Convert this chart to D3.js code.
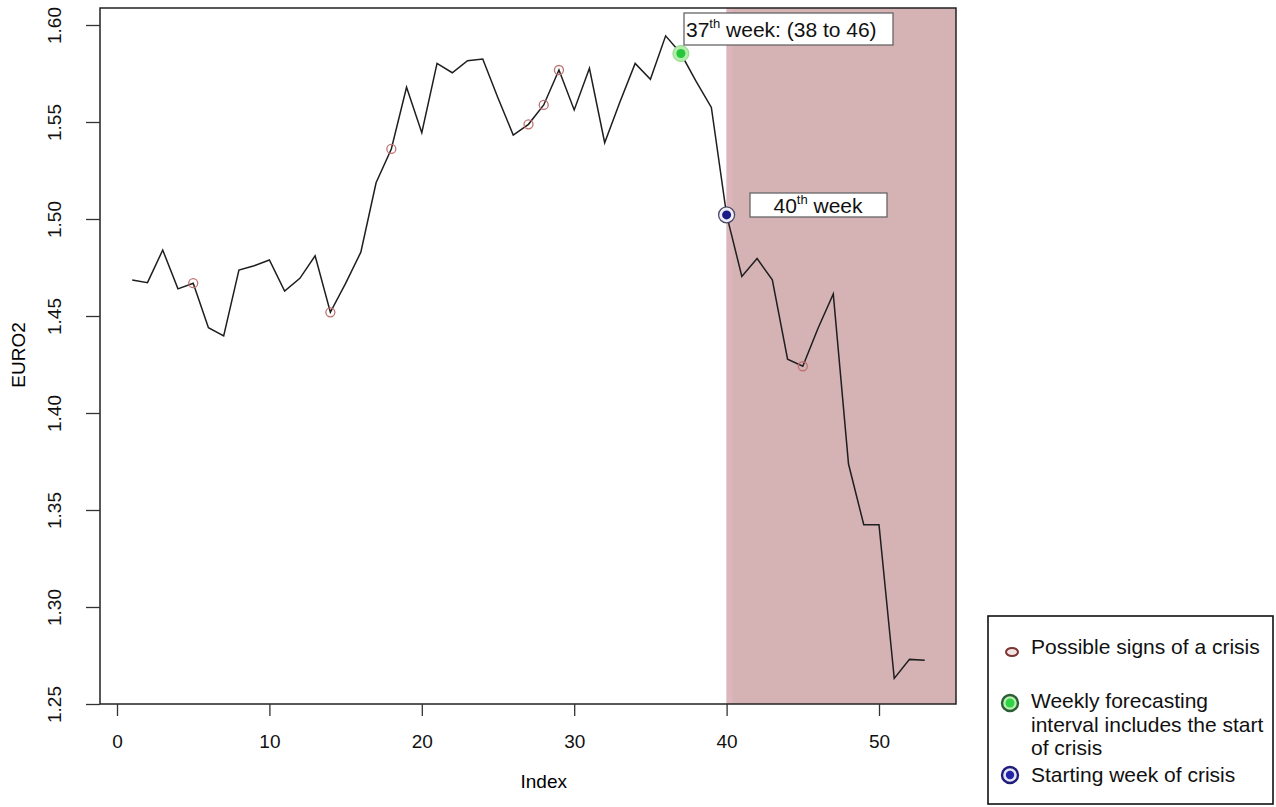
<!DOCTYPE html>
<html>
<head>
<meta charset="utf-8">
<script src="https://cdn.jsdelivr.net/npm/d3@7"></script>
<style>
  body { margin: 0; background: #fff; }
  svg { display: block; font-family: "Liberation Sans", Arial, sans-serif; }
</style>
</head>
<body>
<svg id="chart" width="1276" height="807"></svg>
<script>
// Weekly EURO2 values, index 1..53
const euro2 = [
  1.4686, 1.4672, 1.4840, 1.4640, 1.4669, 1.4440, 1.4397, 1.4737, 1.4759, 1.4789,
  1.4629, 1.4694, 1.4810, 1.4519, 1.4668, 1.4829, 1.5187, 1.5361, 1.5679, 1.5445,
  1.5802, 1.5754, 1.5816, 1.5825, 1.5624, 1.5433, 1.5488, 1.5588, 1.5768, 1.5562,
  1.5777, 1.5393, 1.5603, 1.5802, 1.5720, 1.5944, 1.5853, 1.5709, 1.5575, 1.5021,
  1.4704, 1.4796, 1.4686, 1.4277, 1.4241, 1.4437, 1.4614, 1.3737, 1.3424, 1.3424,
  1.2632, 1.2730, 1.2725
];
const signWeeks = [5, 14, 18, 27, 28, 29, 45];   // possible signs of a crisis
const forecastWeek = 37;                          // interval includes the start
const crisisWeek = 40;                            // starting week of crisis
const xTicks = [0, 10, 20, 30, 40, 50];
const yTicks = [1.25, 1.30, 1.35, 1.40, 1.45, 1.50, 1.55, 1.60];
const legendLabels = [
  ["Possible signs of a crisis"],
  ["Weekly forecasting", "interval includes the start", "of crisis"],
  ["Starting week of crisis"]
];

const svg = d3.select("#chart");
const box = { left: 100, right: 956, top: 8, bottom: 704 };
const font = 19;

const x = d3.scaleLinear().domain([0, 50]).range([117, 879]);
const y = d3.scaleLinear().domain([1.25, 1.60]).range([704, 25]);
const pt = (wk) => [x(wk), y(euro2[wk - 1])];

// crisis period shading
svg.append("rect")
  .attr("x", x(crisisWeek)).attr("y", box.top)
  .attr("width", box.right - x(crisisWeek)).attr("height", box.bottom - box.top)
  .attr("fill", "#d5b3b5");
svg.append("rect")
  .attr("x", x(crisisWeek)).attr("y", box.top)
  .attr("width", 6).attr("height", box.bottom - box.top)
  .attr("fill", "#dcb6bc");

// series line
const line = d3.line().x((d, i) => x(i + 1)).y(d => y(d));
svg.append("path").datum(euro2)
  .attr("d", line).attr("fill", "none")
  .attr("stroke", "#1e1e1e").attr("stroke-width", 1.5);

// possible signs
svg.append("g").selectAll("circle").data(signWeeks).join("circle")
  .attr("cx", d => pt(d)[0]).attr("cy", d => pt(d)[1]).attr("r", 4.5)
  .attr("fill", "none").attr("stroke", "#c07272").attr("stroke-width", 1.3);

// forecast week marker
const [gx, gy] = pt(forecastWeek);
svg.append("circle").attr("cx", gx).attr("cy", gy).attr("r", 8)
  .attr("fill", "#b4ecac").attr("stroke", "#8fd888").attr("stroke-width", 1);
svg.append("circle").attr("cx", gx).attr("cy", gy).attr("r", 4.5).attr("fill", "#25c83a");

// crisis week marker
const [bx, by] = pt(crisisWeek);
svg.append("circle").attr("cx", bx).attr("cy", by).attr("r", 8)
  .attr("fill", "#eeeef6").attr("stroke", "#4a4a66").attr("stroke-width", 1.3);
svg.append("circle").attr("cx", bx).attr("cy", by).attr("r", 4.5).attr("fill", "#1c1c88");

// plot frame
svg.append("rect")
  .attr("x", box.left).attr("y", box.top)
  .attr("width", box.right - box.left).attr("height", box.bottom - box.top)
  .attr("fill", "none").attr("stroke", "#222").attr("stroke-width", 1.5);

// axes (R style)
const xAxis = svg.append("g").attr("transform", `translate(0,${box.bottom})`)
  .call(d3.axisBottom(x).tickValues(xTicks).tickSize(12).tickPadding(19));
const yAxis = svg.append("g").attr("transform", `translate(${box.left},0)`)
  .call(d3.axisLeft(y).tickValues(yTicks).tickFormat(d3.format(".2f")).tickSize(14).tickPadding(4));
for (const ax of [xAxis, yAxis]) {
  ax.select(".domain").remove();
  ax.selectAll("line").attr("stroke", "#333").attr("stroke-width", 1.3);
  ax.selectAll("text").attr("fill", "#111").style("font-size", font + "px")
    .style("font-family", "'Liberation Sans', Arial, sans-serif");
}
yAxis.selectAll(".tick text")
  .attr("x", null).attr("dy", null)
  .attr("text-anchor", "middle")
  .attr("transform", "translate(-46,0) rotate(-90)")
  .attr("dy", "0.35em");

svg.append("text").attr("x", x(28)).attr("y", 788)
  .attr("text-anchor", "middle").style("font-size", font + "px").text("Index");
svg.append("text").attr("transform", "translate(25,355) rotate(-90)")
  .attr("text-anchor", "middle").style("font-size", font + "px").text("EURO2");

// annotation boxes
function note(x0, y0, w, h, num, rest, tx, ty, anchor) {
  svg.append("rect").attr("x", x0).attr("y", y0).attr("width", w).attr("height", h)
    .attr("fill", "#fff").attr("stroke", "#666").attr("stroke-width", 1.3);
  const t = svg.append("text").attr("x", tx).attr("y", ty)
    .attr("text-anchor", anchor).style("font-size", "21px").attr("fill", "#111");
  t.append("tspan").text(num);
  t.append("tspan").attr("dy", -9).style("font-size", "13px").text("th");
  t.append("tspan").attr("dy", 9).text(rest);
}
note(684, 13, 209, 32, "37", " week: (38 to 46)", 686, 37, "start");
note(750, 193, 137, 24, "40", " week", 818, 213, "middle");

// legend
const leg = svg.append("g");
leg.append("rect").attr("x", 988).attr("y", 616).attr("width", 285).attr("height", 188)
  .attr("fill", "#fff").attr("stroke", "#111").attr("stroke-width", 1.6);
const legRows = [654, 708, 782];
legendLabels.forEach((lines, i) => {
  const t = leg.append("text").attr("x", 1031).attr("y", legRows[i])
    .style("font-size", "21px").attr("fill", "#111");
  lines.forEach((s, j) => t.append("tspan").attr("x", 1031).attr("dy", j ? 23.5 : 0).text(s));
});
leg.append("ellipse").attr("cx", 1012).attr("cy", 652).attr("rx", 6).attr("ry", 4)
  .attr("fill", "#f4e4e4").attr("stroke", "#7a3434").attr("stroke-width", 2);
leg.append("circle").attr("cx", 1010).attr("cy", 703).attr("r", 8)
  .attr("fill", "#b8eeb0").attr("stroke", "#2c5e34").attr("stroke-width", 2.4);
leg.append("circle").attr("cx", 1010).attr("cy", 703).attr("r", 4.5).attr("fill", "#2fd444");
leg.append("circle").attr("cx", 1010).attr("cy", 775).attr("r", 8)
  .attr("fill", "#e4e4f4").attr("stroke", "#1e1e7a").attr("stroke-width", 2.4);
leg.append("circle").attr("cx", 1010).attr("cy", 775).attr("r", 4.2).attr("fill", "#2424a8");
</script>
</body>
</html>
